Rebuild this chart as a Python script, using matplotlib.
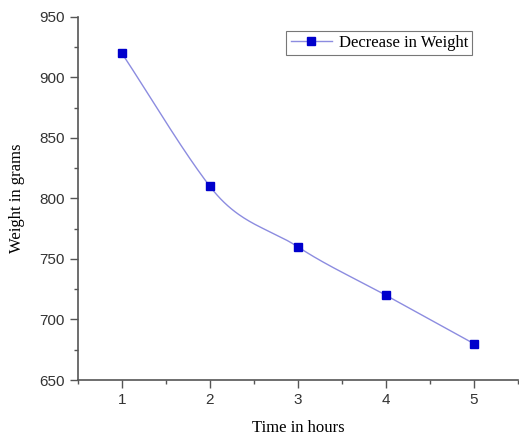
import numpy as np
import matplotlib.pyplot as plt
from matplotlib.ticker import MultipleLocator

hours = [1, 2, 3, 4, 5]
weight = [920, 810, 760, 720, 680]
label = 'Decrease in Weight'

# hermite curve for the smooth connecting line (drawing only),
# tangents lean on the left-hand secant so the first span stays nearly straight
def smooth(x, y, n=50):
    x = np.asarray(x, float); y = np.asarray(y, float)
    h = np.diff(x); dl = np.diff(y) / h
    m = np.zeros_like(y)
    m[0] = dl[0]; m[-1] = dl[-1]
    m[1:-1] = 0.75 * dl[:-1] + 0.25 * dl[1:]
    xs_all, ys_all = [], []
    for i in range(len(x) - 1):
        t = np.linspace(0, 1, n)
        h00 = 2*t**3 - 3*t**2 + 1; h10 = t**3 - 2*t**2 + t
        h01 = -2*t**3 + 3*t**2; h11 = t**3 - t**2
        xs_all.append(x[i] + t * h[i])
        ys_all.append(h00*y[i] + h10*h[i]*m[i] + h01*y[i+1] + h11*h[i]*m[i+1])
    return np.concatenate(xs_all), np.concatenate(ys_all)

fig = plt.figure(figsize=(5.19, 4.38), dpi=100)
ax = fig.add_axes([0.150, 0.1324, 0.848, 0.829])

xs, ys = smooth(hours, weight)
ax.plot(xs, ys, color='#8c8ce0', lw=1.0, zorder=2)
ax.plot(hours, weight, ls='none', marker='s', ms=6, color='#0000cc', zorder=3)
ax.plot([], [], color='#8c8ce0', lw=1.0, marker='s', ms=6, mfc='#0000cc', mec='#0000cc', label=label)

ax.set_xlim(0.5, 5.5)
ax.set_ylim(650, 950)
ax.xaxis.set_major_locator(MultipleLocator(1))
ax.xaxis.set_minor_locator(MultipleLocator(0.5))
ax.yaxis.set_major_locator(MultipleLocator(50))
ax.yaxis.set_minor_locator(MultipleLocator(25))
for s in ['top', 'right']:
    ax.spines[s].set_visible(False)
for s in ['left', 'bottom']:
    ax.spines[s].set_color('#555555')
    ax.spines[s].set_linewidth(1.2)
ax.tick_params(which='major', direction='out', length=6, width=1, color='#555555',
               labelsize=11, labelcolor='#333333')
ax.tick_params(which='minor', direction='out', length=3, width=1, color='#555555')
for t in ax.get_yticklabels() + ax.get_xticklabels():
    t.set_family('Liberation Sans')

ax.set_xlabel('Time in hours', family='Liberation Serif', fontsize=12, labelpad=9)
ax.set_ylabel('Weight in grams', family='Liberation Serif', fontsize=12, labelpad=10)

leg = ax.legend(loc='upper left', bbox_to_anchor=(0.455, 0.985), prop={'family': 'Liberation Serif', 'size': 12},
                fancybox=False, edgecolor='#777777', handlelength=2.5, handletextpad=0.4,
                borderpad=0.25, framealpha=1)
leg.get_frame().set_linewidth(0.8)

fig.savefig('out.png', dpi=100)
